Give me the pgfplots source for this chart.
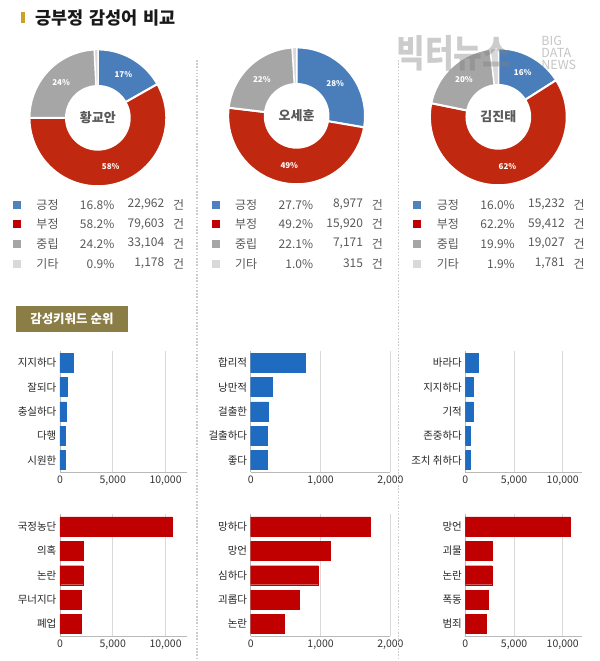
\documentclass[border=0pt]{standalone}
\usepackage{fontspec}
\setmainfont{Noto Sans CJK KR}
\usepackage{pgfplots}
\pgfplotsset{compat=1.18}
\definecolor{cpos}{HTML}{4A7EBB}
\definecolor{cneg}{HTML}{C0280F}
\definecolor{cneu}{HTML}{A6A6A6}
\definecolor{coth}{HTML}{D9D9D9}
\definecolor{lpos}{HTML}{4F81BD}
\definecolor{lneg}{HTML}{C00000}
\definecolor{bblue}{HTML}{1F6BBF}
\definecolor{bred}{HTML}{C00000}
\definecolor{gold}{HTML}{C9A227}
\definecolor{olive}{HTML}{8A7D45}
\definecolor{txt}{HTML}{595959}

% donut: cx, cy, name, pos, neg, neu, other
\newcommand{\donut}[7]{%
\pgfmathsetmacro\aA{90}%
\pgfmathsetmacro\aB{90-3.6*#4}%
\pgfmathsetmacro\aC{\aB-3.6*#5}%
\pgfmathsetmacro\aD{\aC-3.6*#6}%
\pgfmathsetmacro\mA{(\aA+\aB)/2}%
\pgfmathsetmacro\mB{(\aB+\aC)/2}%
\pgfmathsetmacro\mC{(\aC+\aD)/2}%
\begin{axis}[at={(#1pt,-#2pt)}, anchor=center, hide axis, scale only axis,
  width=137pt, height=137pt, xmin=-1, xmax=1, ymin=-1, ymax=1, clip=false]
\addplot[fill=cpos, draw=white, line width=2pt, domain=\aB:\aA, samples=50] ({cos(x)},{sin(x)}) -- (0,0) -- cycle;
\addplot[fill=cneg, draw=white, line width=2pt, domain=\aC:\aB, samples=80] ({cos(x)},{sin(x)}) -- (0,0) -- cycle;
\addplot[fill=cneu, draw=white, line width=2pt, domain=\aD:\aC, samples=50] ({cos(x)},{sin(x)}) -- (0,0) -- cycle;
\addplot[fill=coth, draw=white, line width=1pt, domain=-270:\aD, samples=10] ({cos(x)},{sin(x)}) -- (0,0) -- cycle;
\fill[white] (0,0) circle[radius=0.48];
\node[font=\bfseries\fontsize{13}{15}\selectfont, text=txt] at (0,0) {#3};
\node[font=\bfseries\fontsize{8}{9}\selectfont, text=white] at ({0.74*cos(\mA)},{0.74*sin(\mA)}) {\pgfmathprintnumber[fixed,precision=0,assume math mode=true]{#4}\%};
\node[font=\bfseries\fontsize{8}{9}\selectfont, text=white] at ({0.74*cos(\mB)},{0.74*sin(\mB)}) {\pgfmathprintnumber[fixed,precision=0,assume math mode=true]{#5}\%};
\node[font=\bfseries\fontsize{8}{9}\selectfont, text=white] at ({0.74*cos(\mC)},{0.74*sin(\mC)}) {\pgfmathprintnumber[fixed,precision=0,assume math mode=true]{#6}\%};
\end{axis}}

% legend row: col offset, y, colour, label, pct, count
\newcommand{\legrow}[6]{%
\fill[#3] ({#1+13},{#2-4}) rectangle ({#1+21},{#2+4});
\node[anchor=west, text=txt, font=\fontsize{12}{14}\selectfont] at ({#1+33},#2) {#4};
\node[anchor=east, text=txt, font=\fontsize{12}{14}\selectfont] at ({#1+118},#2) {#5};
\node[anchor=east, text=txt, font=\fontsize{12}{14}\selectfont] at ({#1+168},#2) {#6};
\node[text=txt, font=\fontsize{12}{14}\selectfont] at ({#1+179},#2) {건};}

\pgfplotsset{kwstyle/.style={anchor=north west, scale only axis, height=122pt,
  xbar, bar width=0.78, xmin=0, ymin=-0.5, ymax=4.5,
  ytick={0,1,2,3,4}, major tick length=0pt,
  axis x line*=bottom, axis y line*=left,
  axis line style={gray!55, line width=0.6pt},
  xmajorgrids, major grid style={gray!30, line width=0.6pt},
  extra y ticks={-0.5,0.5,1.5,2.5,3.5,4.5}, extra y tick labels={},
  extra y tick style={major tick length=4pt, tick align=outside, tick style={gray!55, line width=0.6pt}, grid=none},
  xtick style={draw=none}, ytick style={draw=none},
  scaled x ticks=false,
  xticklabel style={font=\fontsize{10.5}{12}\selectfont, text=black!80},
  yticklabel style={font=\fontsize{10.5}{12}\selectfont, text=black!85},
  /pgf/number format/1000 sep={,},
  /pgf/number format/assume math mode=true}}

% keyword bars: x, ytop, width, xmax, xticks, labels (bottom to top), colour, data
\newcommand{\kw}[8]{%
\begin{axis}[kwstyle, at={(#1pt,-#2pt)}, width=#3pt, xmax=#4, xtick={#5}, yticklabels={#6}]
\addplot[fill=#7, draw=#7] coordinates {#8};
\end{axis}}

\begin{document}
\begin{tikzpicture}
\begin{scope}[x=1pt,y=-1pt]
\useasboundingbox (0,0) rectangle (600,661);
\fill[white] (0,0) rectangle (600,661);
\end{scope}

% donuts
\donut{98}{118}{황교안}{16.8}{58.2}{24.2}{0.9}
\donut{297}{116}{오세훈}{27.7}{49.2}{22.1}{1.0}
\donut{499}{117}{김진태}{16.0}{62.2}{19.9}{1.9}

\begin{scope}[x=1pt,y=-1pt]
% title
\fill[gold] (21,12) rectangle (25,23);
\node[anchor=west, font=\bfseries\fontsize{17.5}{20}\selectfont, text=black!90, inner sep=0pt] at (35,17.5) {긍부정\hspace{6pt}감성어\hspace{6pt}비교};
% watermark
\node[anchor=west, font=\bfseries\fontsize{38}{40}\selectfont, text=gray, opacity=0.4, inner sep=0pt, xscale=0.82] at (397,53) {빅터뉴스};
\node[anchor=west, font=\fontsize{12.5}{12.5}\selectfont, text=gray, opacity=0.45, inner sep=0pt, align=left] at (542,53) {BIG\\DATA\\NEWS};

% legends
\legrow{0}{205}{lpos}{긍정}{16.8\%}{22,962}
\legrow{0}{224.5}{lneg}{부정}{58.2\%}{79,603}
\legrow{0}{244}{cneu}{중립}{24.2\%}{33,104}
\legrow{0}{264}{coth}{기타}{0.9\%}{1,178}
\legrow{199}{205}{lpos}{긍정}{27.7\%}{8,977}
\legrow{199}{224.5}{lneg}{부정}{49.2\%}{15,920}
\legrow{199}{244}{cneu}{중립}{22.1\%}{7,171}
\legrow{199}{264}{coth}{기타}{1.0\%}{315}
\legrow{401}{205}{lpos}{긍정}{16.0\%}{15,232}
\legrow{401}{224.5}{lneg}{부정}{62.2\%}{59,412}
\legrow{401}{244}{cneu}{중립}{19.9\%}{19,027}
\legrow{401}{264}{coth}{기타}{1.9\%}{1,781}

% keyword box
\fill[olive] (16,306) rectangle (128,332);
\node[text=white, font=\bfseries\fontsize{12.5}{14}\selectfont] at (72,319) {감성키워드 순위};
\end{scope}

% keyword bar charts (positive)
\kw{60}{351}{127}{12000}{0,5000,10000}{시원한,다행,충실하다,잘되다,지지하다}{bblue}{(500,0) (540,1) (580,2) (720,3) (1230,4)}
\kw{251}{351}{140}{2000}{0,1000,2000}{좋다,걸출하다,걸출한,낭만적,합리적}{bblue}{(235,0) (240,1) (245,2) (305,3) (780,4)}
\kw{466}{351}{117}{12000}{0,5000,10000}{조치 취하다,존중하다,기적,지지하다,바라다}{bblue}{(490,0) (530,1) (760,2) (770,3) (1290,4)}
% keyword bar charts (negative)
\kw{60}{515}{127}{12000}{0,5000,10000}{폐업,무너지다,논란,의혹,국정농단}{bred}{(2040,0) (2060,1) (2200,2) (2250,3) (10630,4)}
\kw{251}{515}{140}{2000}{0,1000,2000}{논란,괴롭다,심하다,망언,망하다}{bred}{(480,0) (690,1) (970,2) (1140,3) (1710,4)}
\kw{466}{515}{117}{12000}{0,5000,10000}{범죄,폭동,논란,괴물,망언}{bred}{(2120,0) (2340,1) (2720,2) (2780,3) (10740,4)}

\begin{scope}[x=1pt,y=-1pt]
\draw[gray!40, line width=1.8pt, dash pattern=on 1.6pt off 1.6pt] (197,60) -- (197,661);
\draw[gray!40, line width=1.8pt, dash pattern=on 1.6pt off 1.6pt] (399,60) -- (399,661);
\end{scope}
\end{tikzpicture}
\end{document}
